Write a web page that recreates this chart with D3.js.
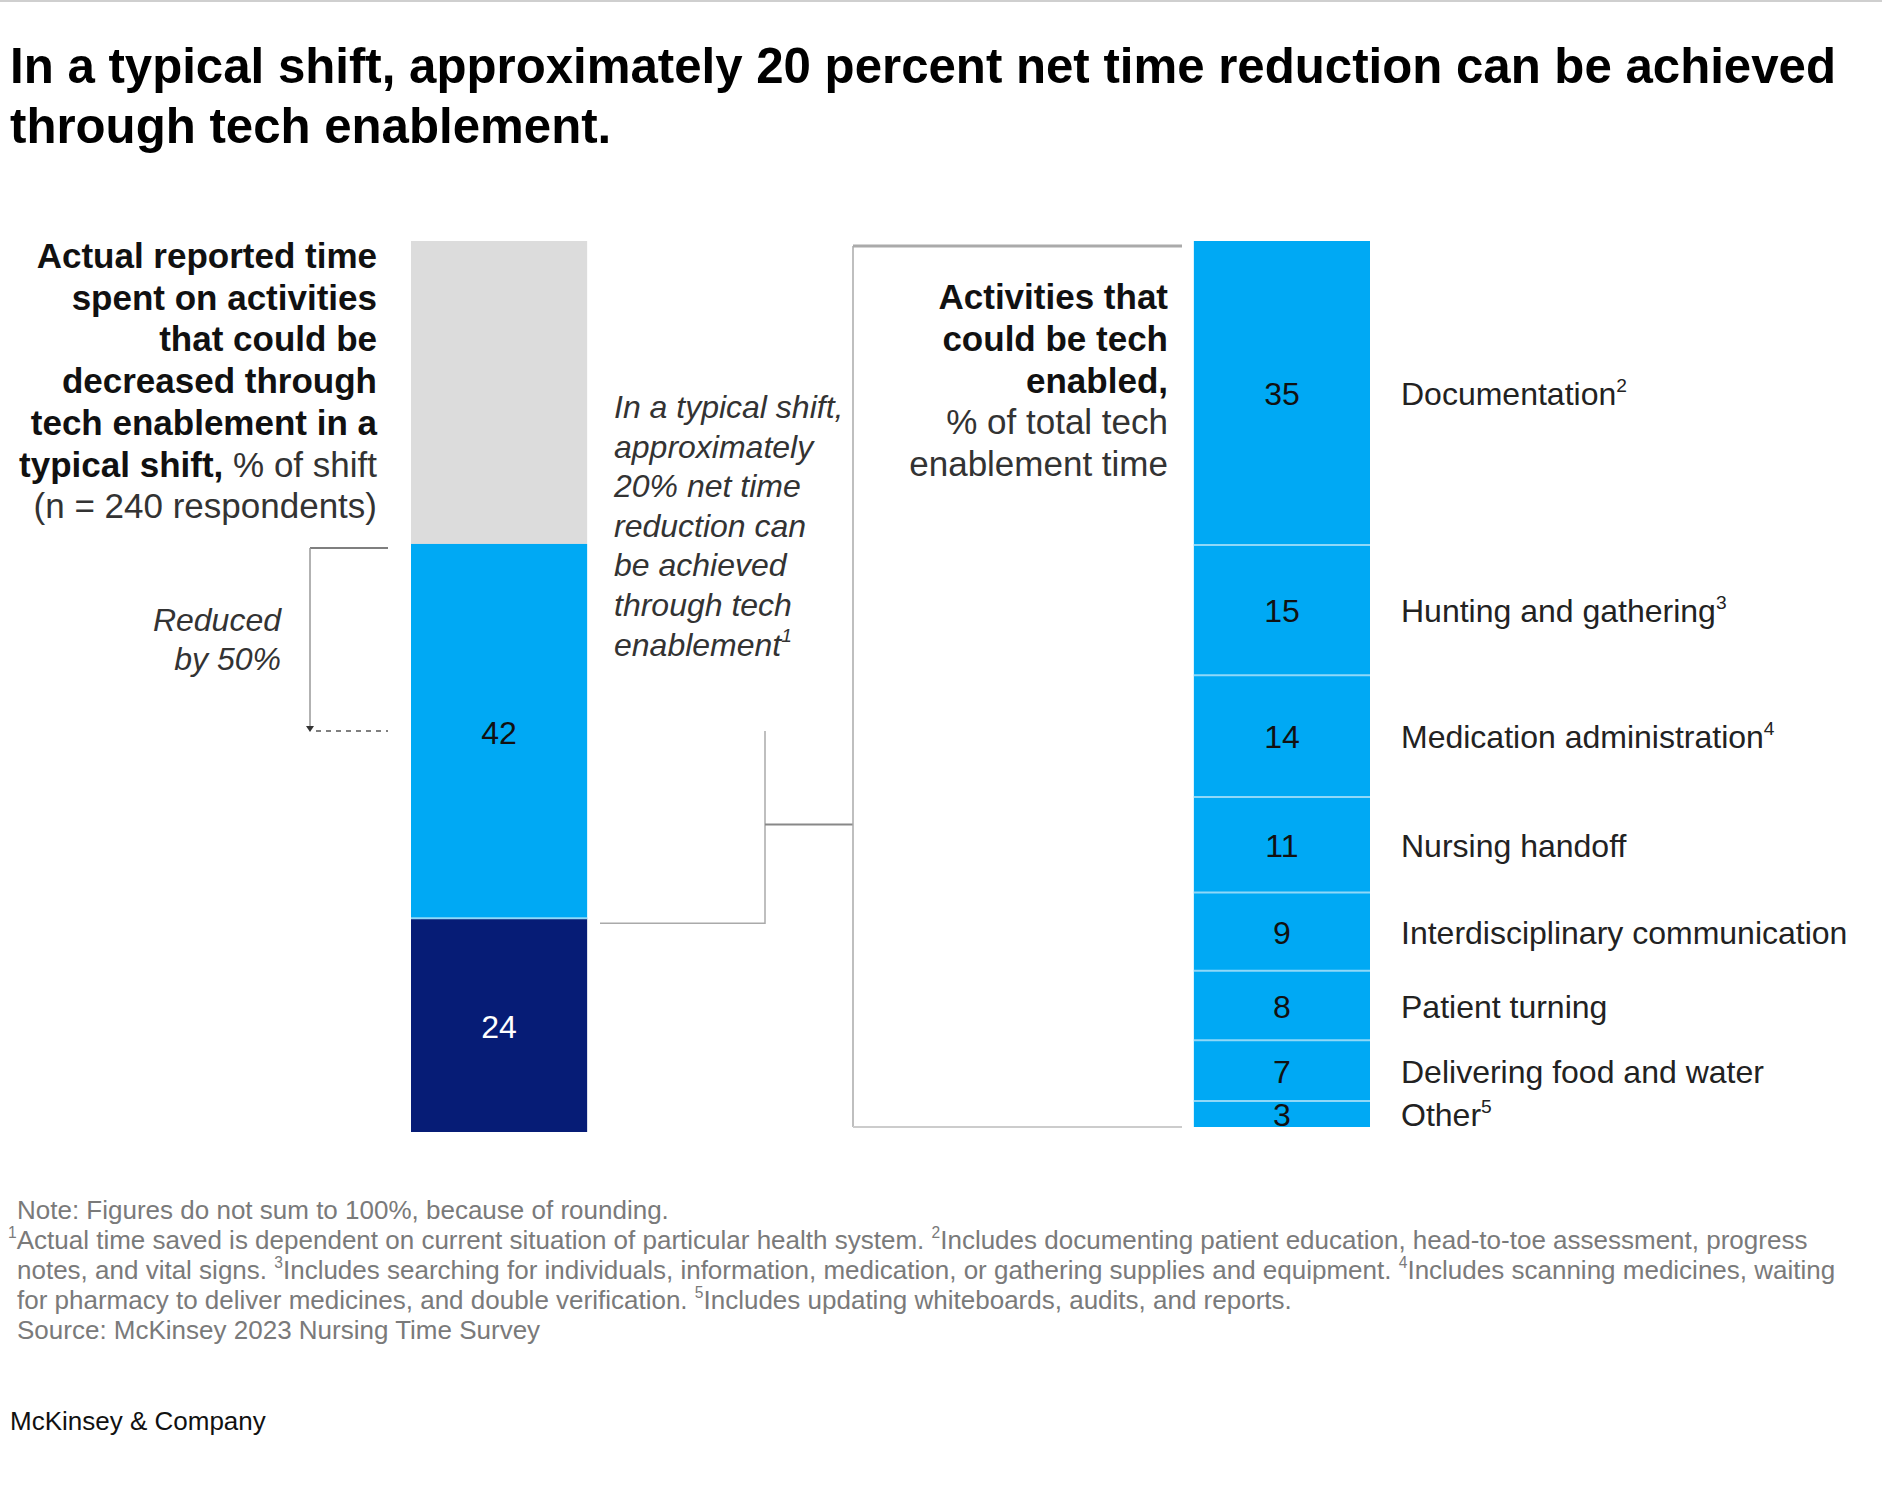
<!DOCTYPE html>
<html>
<head>
<meta charset="utf-8">
<script src="https://cdn.jsdelivr.net/npm/d3@7"></script>
<style>
  body { margin: 0; background: #fff; }
  svg { display: block; }
  text { font-family: "Liberation Sans", Arial, sans-serif; }
</style>
</head>
<body>
<div id="chart"></div>
<script>
// ---- data ----
const titleLines = [
  "In a typical shift, approximately 20 percent net time reduction can be achieved",
  "through tech enablement."
];

// left bar, top to bottom (% of shift)
const shiftParts = ["rest", "reducible", "base"];
const shiftValues = [34, 42, 24];
const shiftShowLabel = [false, true, true];
const reductionShare = 50; // "Reduced by 50%"

// right bar, top to bottom (% of total tech enablement time)
const activities = [
  "Documentation", "Hunting and gathering", "Medication administration",
  "Nursing handoff", "Interdisciplinary communication", "Patient turning",
  "Delivering food and water", "Other"
];
const activityValues = [35, 15, 14, 11, 9, 8, 7, 3];
const activityNotes = ["2", "3", "4", "", "", "", "", "5"];

// [bold part, regular part]
const leftHeader = [
  ["Actual reported time", ""],
  ["spent on activities", ""],
  ["that could be", ""],
  ["decreased through", ""],
  ["tech enablement in a", ""],
  ["typical shift,", " % of shift"],
  ["", "(n = 240 respondents)"]
];
const rightHeader = [
  ["Activities that", ""],
  ["could be tech", ""],
  ["enabled,", ""],
  ["", "% of total tech"],
  ["", "enablement time"]
];
const reducedNote = ["Reduced", "by 50%"];
const middleNote = [
  "In a typical shift,", "approximately", "20% net time", "reduction can",
  "be achieved", "through tech", "enablement{1}"
];
const footnotes = [
  "Note: Figures do not sum to 100%, because of rounding.",
  "{1}Actual time saved is dependent on current situation of particular health system. {2}Includes documenting patient education, head-to-toe assessment, progress",
  "notes, and vital signs. {3}Includes searching for individuals, information, medication, or gathering supplies and equipment. {4}Includes scanning medicines, waiting",
  "for pharmacy to deliver medicines, and double verification. {5}Includes updating whiteboards, audits, and reports.",
  "Source: McKinsey 2023 Nursing Time Survey"
];
const brand = "McKinsey & Company";

// ---- chart ----
const width = 1882, height = 1488;
const colors = { rest: "#dcdcdc", reducible: "#00a9f4", base: "#061c76" };
const actColor = "#00a9f4";

const svg = d3.select("#chart").append("svg")
  .attr("width", width)
  .attr("height", height)
  .attr("viewBox", [0, 0, width, height]);

// writes a string with {n} superscript markers into a text element
function richText(text, str, size) {
  const parts = str.split(/\{(\d)\}/);
  const shift = size * 0.42;
  let raised = false;
  parts.forEach((p, i) => {
    if (p === "") return;
    const sup = i % 2 === 1;
    const t = text.append("tspan").text(p);
    if (sup) {
      t.attr("font-size", size * 0.6).attr("dy", raised ? 0 : -shift);
      raised = true;
    } else if (raised) {
      t.attr("dy", shift);
      raised = false;
    }
  });
  return text;
}

// top rule
svg.append("line")
  .attr("x1", 0).attr("x2", width)
  .attr("y1", 1).attr("y2", 1)
  .attr("stroke", "#cfcfcf").attr("stroke-width", 2);

// title
svg.append("g").selectAll("text")
  .data(titleLines)
  .join("text")
  .attr("x", 10)
  .attr("y", (d, i) => 83 + i * 60)
  .attr("font-size", 49.2)
  .attr("font-weight", "bold")
  .attr("fill", "#000")
  .text(d => d);

// scales
const x = d3.scaleBand()
  .domain(["shift", "activities"])
  .range([411, 1370])
  .paddingInner(0.775);

const yShift = d3.scaleLinear()
  .domain([0, d3.sum(shiftValues)])
  .range([241, 1132]);

const yAct = d3.scaleLinear()
  .domain([0, d3.sum(activityValues)])
  .range([241, 1127]);

// left stacked bar
const shiftStart = [0, ...d3.cumsum(shiftValues)];
const shiftData = shiftValues.map((v, i) => ({
  key: shiftParts[i], value: v, y0: shiftStart[i], y1: shiftStart[i + 1], show: shiftShowLabel[i]
}));

const leftBar = svg.append("g");
leftBar.selectAll("rect")
  .data(shiftData)
  .join("rect")
  .attr("x", x("shift"))
  .attr("width", x.bandwidth())
  .attr("y", d => yShift(d.y0))
  .attr("height", d => yShift(d.y1) - yShift(d.y0))
  .attr("fill", d => colors[d.key]);

leftBar.selectAll("line")
  .data(shiftData.slice(2))
  .join("line")
  .attr("x1", x("shift")).attr("x2", x("shift") + x.bandwidth())
  .attr("y1", d => yShift(d.y0)).attr("y2", d => yShift(d.y0))
  .attr("stroke", "#8fd8f8").attr("stroke-width", 2);

leftBar.selectAll("text")
  .data(shiftData.filter(d => d.show))
  .join("text")
  .attr("x", x("shift") + x.bandwidth() / 2)
  .attr("y", d => (yShift(d.y0) + yShift(d.y1)) / 2)
  .attr("dy", "0.4em")
  .attr("text-anchor", "middle")
  .attr("font-size", 32)
  .attr("fill", d => d.key === "base" ? "#fff" : "#111")
  .text(d => d.value);

// right stacked bar
const actStart = [0, ...d3.cumsum(activityValues)];
const actData = activityValues.map((v, i) => ({
  name: activities[i], note: activityNotes[i], value: v, y0: actStart[i], y1: actStart[i + 1]
}));

const rightBar = svg.append("g");
rightBar.selectAll("rect")
  .data(actData)
  .join("rect")
  .attr("x", x("activities"))
  .attr("width", x.bandwidth())
  .attr("y", d => yAct(d.y0))
  .attr("height", d => yAct(d.y1) - yAct(d.y0))
  .attr("fill", actColor);

rightBar.selectAll("line")
  .data(actData.slice(1))
  .join("line")
  .attr("x1", x("activities")).attr("x2", x("activities") + x.bandwidth())
  .attr("y1", d => yAct(d.y0)).attr("y2", d => yAct(d.y0))
  .attr("stroke", "#8fd8f8").attr("stroke-width", 2);

rightBar.selectAll("text.val")
  .data(actData)
  .join("text")
  .attr("class", "val")
  .attr("x", x("activities") + x.bandwidth() / 2)
  .attr("y", d => (yAct(d.y0) + yAct(d.y1)) / 2)
  .attr("dy", "0.38em")
  .attr("text-anchor", "middle")
  .attr("font-size", 32)
  .attr("fill", "#111")
  .text(d => d.value);

rightBar.selectAll("text.lab")
  .data(actData)
  .join("text")
  .attr("class", "lab")
  .attr("x", 1401)
  .attr("y", d => (yAct(d.y0) + yAct(d.y1)) / 2)
  .attr("dy", "0.38em")
  .attr("font-size", 32)
  .attr("fill", "#222")
  .each(function (d) {
    richText(d3.select(this), d.note ? `${d.name}{${d.note}}` : d.name, 32);
  });

// headers
function header(lines, xPos, y0, step) {
  const g = svg.append("g");
  lines.forEach((l, i) => {
    const t = g.append("text")
      .attr("x", xPos).attr("y", y0 + i * step)
      .attr("text-anchor", "end")
      .attr("font-size", 35)
      .attr("fill", "#111");
    if (l[0]) t.append("tspan").attr("font-weight", "bold").text(l[0]);
    if (l[1]) t.append("tspan").attr("fill", "#333").text(l[1]);
  });
}
header(leftHeader, 377, 268, 41.7);
header(rightHeader, 1168, 309, 41.8);

// "Reduced by 50%" bracket with arrow
const topBlue = yShift(shiftStart[1]);
const reducedY = yShift(shiftStart[1] + shiftValues[1] * reductionShare / 100);
const bottomBlue = yShift(shiftStart[2]);
const ann = svg.append("g").attr("fill", "none");

ann.append("line")
  .attr("x1", 310).attr("x2", 388)
  .attr("y1", topBlue + 4).attr("y2", topBlue + 4)
  .attr("stroke", "#555").attr("stroke-width", 1.5);
ann.append("line")
  .attr("x1", 310).attr("x2", 310)
  .attr("y1", topBlue + 4).attr("y2", reducedY - 4)
  .attr("stroke", "#999").attr("stroke-width", 1.5);
ann.append("path")
  .attr("d", `M306,${reducedY - 5}L314,${reducedY - 5}L310,${reducedY + 1}Z`)
  .attr("fill", "#333");
ann.append("line")
  .attr("x1", 316).attr("x2", 388)
  .attr("y1", reducedY).attr("y2", reducedY)
  .attr("stroke", "#555").attr("stroke-width", 1.5)
  .attr("stroke-dasharray", "5,5");

svg.append("g").selectAll("text")
  .data(reducedNote)
  .join("text")
  .attr("x", 281)
  .attr("y", (d, i) => 631 + i * 39)
  .attr("text-anchor", "end")
  .attr("font-size", 32)
  .attr("font-style", "italic")
  .attr("fill", "#333")
  .text(d => d);

// net reduction bracket
const netX = 765, rightX = 853;
ann.append("polyline")
  .attr("points", `${netX},${reducedY} ${netX},${bottomBlue + 5} 600,${bottomBlue + 5}`)
  .attr("stroke", "#aaa").attr("stroke-width", 1.5);
ann.append("line")
  .attr("x1", netX).attr("x2", rightX)
  .attr("y1", (reducedY + bottomBlue) / 2).attr("y2", (reducedY + bottomBlue) / 2)
  .attr("stroke", "#888").attr("stroke-width", 2);

// right bracket around activity header
ann.append("line")
  .attr("x1", rightX).attr("x2", rightX)
  .attr("y1", yAct(0) + 5).attr("y2", yAct(d3.sum(activityValues)))
  .attr("stroke", "#aaa").attr("stroke-width", 1.5);
ann.append("line")
  .attr("x1", rightX).attr("x2", 1182)
  .attr("y1", yAct(0) + 5).attr("y2", yAct(0) + 5)
  .attr("stroke", "#aaa").attr("stroke-width", 3);
ann.append("line")
  .attr("x1", rightX).attr("x2", 1182)
  .attr("y1", yAct(d3.sum(activityValues))).attr("y2", yAct(d3.sum(activityValues)))
  .attr("stroke", "#ccc").attr("stroke-width", 2);

// middle italic note
svg.append("g").selectAll("text")
  .data(middleNote)
  .join("text")
  .attr("x", 614)
  .attr("y", (d, i) => 418 + i * 39.6)
  .attr("font-size", 32)
  .attr("font-style", "italic")
  .attr("fill", "#333")
  .each(function (d) { richText(d3.select(this), d, 32); });

// footnotes
svg.append("g").selectAll("text")
  .data(footnotes)
  .join("text")
  .attr("x", (d, i) => i === 1 ? 8 : 17)
  .attr("y", (d, i) => 1219 + i * 30)
  .attr("font-size", 26)
  .attr("fill", "#7a7a7a")
  .each(function (d) { richText(d3.select(this), d, 26); });

svg.append("text")
  .attr("x", 10)
  .attr("y", 1430)
  .attr("font-size", 26)
  .attr("fill", "#111")
  .text(brand);
</script>
</body>
</html>
